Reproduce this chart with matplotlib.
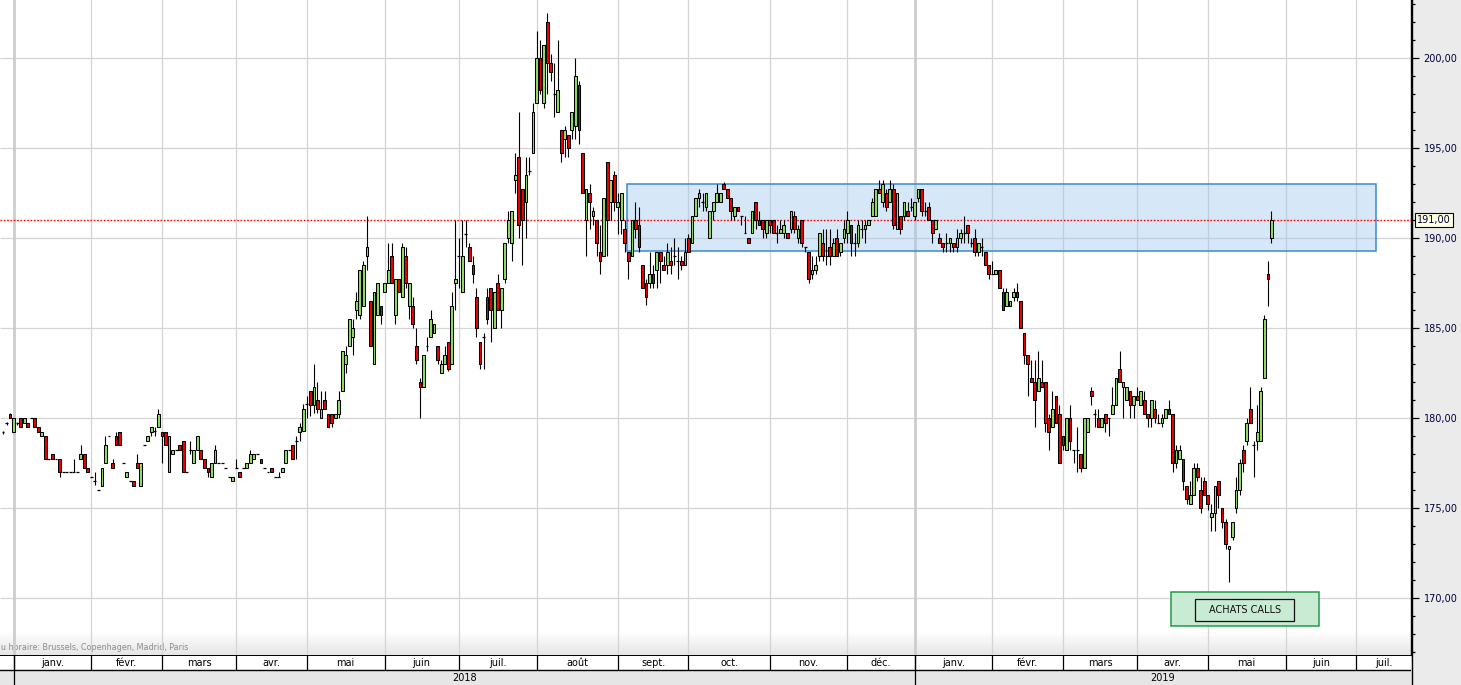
import numpy as np
import pandas as pd
import matplotlib
matplotlib.use("Agg")
import matplotlib.pyplot as plt
import matplotlib.transforms as mtransforms
from matplotlib.patches import Rectangle
from matplotlib.lines import Line2D
from matplotlib.ticker import MultipleLocator, FuncFormatter

# Euronext closing days (no candle, no slot on the chart)
holidays = ["2017-12-25", "2017-12-26", "2018-01-01", "2018-03-30", "2018-04-02",
            "2018-05-01", "2018-12-25", "2018-12-26", "2019-01-01", "2019-04-19",
            "2019-04-22", "2019-05-01"]

# daily candles (open, high, low, close), one list per month
dec17 = [(179.2, 179.3, 179.1, 179.2), (179.7, 179.8, 179.6, 179.7), (180.2, 180.3, 180.0, 180.0)]
jan18 = [(179.2, 180.0, 179.2, 180.0), (179.7, 179.8, 179.6, 179.7), (180.0, 180.0, 179.5, 179.5),
         (179.7, 180.0, 179.7, 180.0), (179.7, 179.7, 179.5, 179.5), (180.0, 180.0, 180.0, 180.0),
         (180.0, 180.0, 179.5, 179.5), (179.5, 179.5, 179.2, 179.2), (179.0, 179.2, 179.0, 179.2),
         (179.0, 179.0, 177.7, 177.7), (177.7, 177.7, 177.7, 177.7), (178.0, 178.0, 177.7, 177.7),
         (177.7, 177.7, 177.7, 177.7), (177.7, 177.7, 176.7, 177.0), (177.0, 177.0, 177.0, 177.0),
         (177.0, 177.0, 177.0, 177.0), (177.0, 177.0, 177.0, 177.0), (177.0, 177.7, 177.0, 177.0),
         (177.0, 177.0, 177.0, 177.0), (177.7, 178.5, 177.7, 178.0), (178.0, 178.0, 177.2, 177.2),
         (177.2, 177.2, 177.0, 177.0)]
feb18 = [(176.7, 176.7, 176.7, 176.7), (176.5, 177.0, 176.3, 176.5), (176.0, 176.0, 176.0, 176.0),
         (176.2, 177.2, 176.2, 177.2), (177.5, 179.0, 177.5, 178.5), (179.0, 179.0, 179.0, 179.0),
         (177.5, 177.7, 177.2, 177.2), (179.0, 179.2, 178.5, 178.5), (179.2, 179.2, 178.5, 178.5),
         (177.5, 177.5, 177.5, 177.5), (176.7, 177.0, 176.7, 177.0), (176.5, 176.5, 176.5, 176.5),
         (176.5, 176.5, 176.2, 176.2), (177.5, 178.0, 177.2, 177.2), (176.2, 177.5, 176.2, 177.5),
         (178.5, 178.5, 178.5, 178.5), (178.7, 179.0, 178.7, 179.0), (179.2, 179.5, 179.0, 179.5),
         (179.3, 179.5, 179.0, 179.3), (179.5, 180.5, 179.5, 180.2)]
mar18 = [(179.2, 179.2, 177.5, 179.0), (179.2, 179.2, 178.5, 178.5), (177.0, 179.0, 177.0, 179.0),
         (178.0, 178.2, 178.0, 178.2), (178.2, 178.2, 178.2, 178.2), (178.5, 178.5, 178.2, 178.2),
         (178.7, 178.7, 177.0, 177.0), (177.0, 177.0, 177.0, 177.0), (178.2, 178.7, 178.0, 178.2),
         (177.5, 178.2, 177.5, 178.2), (178.2, 179.0, 178.2, 179.0), (178.2, 178.2, 177.7, 177.7),
         (177.7, 177.7, 177.2, 177.2), (177.2, 177.2, 176.7, 177.0), (176.7, 177.5, 176.7, 177.5),
         (177.5, 178.5, 177.5, 178.2), (177.5, 177.5, 177.5, 177.5), (177.5, 177.5, 177.5, 177.5),
         (177.2, 177.2, 177.2, 177.2), (176.7, 176.7, 176.7, 176.7), (176.5, 176.7, 176.5, 176.7)]
apr18 = [(177.2, 177.7, 177.2, 177.2), (177.0, 177.0, 176.7, 176.7), (177.2, 177.2, 177.2, 177.2),
         (177.2, 177.5, 177.2, 177.5), (177.5, 178.2, 177.5, 178.0), (177.7, 178.0, 177.7, 178.0),
         (178.0, 178.0, 178.0, 178.0), (177.7, 177.7, 177.5, 177.5), (177.2, 177.2, 177.2, 177.2),
         (177.0, 177.0, 177.0, 177.0), (177.2, 177.2, 177.0, 177.0), (176.7, 176.7, 176.7, 176.7),
         (176.7, 177.0, 176.7, 176.7), (177.0, 177.2, 177.0, 177.2), (177.5, 178.2, 177.5, 178.2),
         (178.2, 178.2, 178.2, 178.2), (178.5, 178.5, 177.7, 177.7), (178.7, 179.0, 177.7, 178.7),
         (179.2, 179.7, 178.7, 179.5)]
may18 = [(179.3, 180.8, 179.3, 180.5), (180.8, 181.2, 180.0, 180.8), (181.5, 181.5, 180.1, 180.7),
         (180.7, 183.0, 180.3, 181.7), (181.0, 182.0, 180.3, 180.5), (180.0, 181.5, 180.0, 180.5),
         (181.0, 181.5, 180.5, 180.5), (180.2, 180.2, 179.5, 179.5), (180.2, 180.2, 179.5, 179.7),
         (180.0, 180.2, 180.0, 180.2), (180.2, 181.5, 180.0, 181.0), (181.5, 183.7, 181.5, 183.7),
         (183.0, 184.0, 182.5, 183.5), (184.0, 185.5, 184.0, 185.5), (184.5, 185.5, 183.5, 185.0),
         (186.0, 187.0, 185.5, 186.5), (185.7, 188.2, 185.5, 188.2), (186.2, 188.7, 186.2, 188.5),
         (189.0, 191.2, 188.2, 189.5), (186.5, 186.5, 184.0, 184.0), (183.0, 187.0, 183.0, 187.0),
         (185.7, 187.5, 185.7, 187.5)]
jun18 = [(186.2, 186.2, 185.2, 185.7), (187.0, 187.5, 187.0, 187.5), (187.5, 189.7, 187.5, 188.2),
         (189.0, 189.7, 187.5, 187.5), (185.7, 187.7, 185.2, 187.7), (187.7, 187.7, 187.0, 187.0),
         (186.7, 189.7, 186.7, 189.5), (189.0, 189.5, 187.2, 187.5), (186.2, 187.5, 185.5, 187.5),
         (186.2, 186.7, 185.0, 185.2), (184.0, 185.0, 183.0, 183.2), (182.0, 182.2, 180.0, 181.7),
         (181.7, 183.5, 181.7, 183.5), (184.0, 184.5, 183.7, 184.0), (184.5, 186.0, 184.5, 185.5),
         (184.7, 185.2, 184.7, 185.2), (184.0, 184.0, 183.0, 183.2), (182.5, 183.2, 182.5, 183.0),
         (183.0, 184.0, 183.0, 183.5), (184.2, 184.2, 182.6, 182.7), (183.0, 187.0, 183.0, 186.2)]
jul18 = [(187.5, 191.0, 186.0, 187.7), (189.0, 190.0, 187.2, 189.0), (187.0, 191.0, 187.0, 189.0),
         (190.2, 191.0, 189.5, 190.2), (189.5, 189.7, 188.7, 188.7), (188.5, 189.0, 187.5, 188.0),
         (186.7, 187.2, 184.5, 185.0), (184.2, 184.2, 182.7, 183.0), (184.5, 184.7, 182.7, 184.5),
         (186.7, 187.2, 185.2, 185.5), (187.2, 187.2, 184.2, 186.0), (185.0, 187.0, 185.0, 187.0),
         (187.5, 188.0, 186.0, 186.0), (186.0, 187.2, 185.0, 187.2), (187.7, 189.7, 187.5, 189.7),
         (190.0, 191.5, 189.7, 191.0), (189.7, 191.5, 188.7, 191.5), (193.2, 194.7, 192.5, 193.5),
         (194.5, 197.0, 190.0, 190.7), (192.7, 192.7, 188.5, 191.0), (192.0, 194.5, 190.0, 193.5),
         (193.7, 194.5, 193.5, 193.7)]
aug18 = [(194.7, 197.5, 194.7, 197.0), (197.5, 201.5, 197.5, 200.0), (200.0, 201.0, 198.0, 198.2),
         (197.5, 200.7, 197.2, 200.7), (202.0, 202.5, 198.0, 199.7), (199.7, 200.2, 198.7, 199.2),
         (198.0, 199.7, 196.7, 198.0), (197.0, 201.0, 197.0, 198.2), (196.0, 196.0, 194.2, 194.7),
         (195.5, 196.2, 194.5, 196.0), (195.7, 195.7, 194.5, 195.0), (196.0, 197.0, 195.5, 197.0),
         (196.2, 200.0, 195.5, 199.0), (198.5, 198.7, 195.2, 196.0), (194.7, 194.7, 192.5, 192.5),
         (191.0, 192.7, 189.0, 192.7), (192.5, 193.0, 190.5, 192.0), (191.2, 191.7, 190.7, 191.5),
         (191.0, 191.0, 189.0, 189.7), (189.2, 190.7, 188.0, 188.7), (189.0, 192.2, 189.0, 192.2),
         (194.2, 194.2, 189.0, 191.0), (192.0, 193.2, 191.0, 193.2)]
sep18 = [(193.5, 193.7, 191.5, 192.0), (191.7, 192.5, 190.2, 192.0), (191.0, 192.5, 190.2, 192.5),
         (190.5, 191.0, 189.2, 189.7), (189.2, 189.2, 187.7, 188.7), (189.0, 191.0, 189.0, 191.0),
         (191.0, 192.0, 190.0, 190.5), (190.7, 191.7, 189.2, 189.5), (188.5, 188.5, 187.2, 187.2),
         (187.5, 187.7, 186.3, 186.7), (187.5, 189.2, 187.2, 188.0), (188.0, 188.5, 187.2, 187.5),
         (188.2, 189.2, 187.2, 189.2), (189.2, 189.2, 187.5, 188.7), (188.5, 189.0, 188.2, 188.2),
         (188.5, 189.7, 188.0, 189.2), (188.7, 189.5, 188.0, 188.5), (189.0, 190.0, 188.5, 189.0),
         (188.7, 189.5, 187.7, 188.7), (188.7, 189.0, 188.2, 188.5)]
oct18 = [(188.5, 190.0, 188.5, 189.2), (190.0, 190.2, 189.2, 189.2), (189.7, 191.2, 189.7, 191.2),
         (191.2, 192.2, 191.2, 192.2), (192.2, 192.7, 191.7, 192.5), (192.0, 192.5, 191.5, 192.0),
         (191.7, 192.5, 191.5, 192.5), (190.0, 191.5, 190.0, 191.5), (191.5, 192.0, 191.0, 192.0),
         (192.0, 193.0, 192.0, 192.5), (192.0, 192.5, 192.0, 192.5), (193.0, 193.1, 192.7, 192.7),
         (192.7, 192.7, 192.2, 192.2), (192.2, 192.2, 191.0, 191.5), (191.2, 191.7, 191.0, 191.7),
         (191.7, 191.7, 191.5, 191.5), (191.2, 191.2, 190.7, 191.2), (190.3, 191.2, 190.3, 190.3),
         (190.0, 190.0, 189.7, 189.7), (190.3, 191.5, 190.3, 191.5), (192.0, 192.0, 190.5, 191.0),
         (191.0, 191.5, 190.7, 190.7), (191.0, 191.0, 190.0, 190.5)]
nov18 = [(190.3, 191.0, 190.0, 191.0), (191.0, 191.0, 190.3, 190.7), (191.0, 191.0, 190.3, 190.3),
         (190.3, 190.7, 189.7, 190.3), (190.3, 191.0, 190.3, 190.5), (190.3, 191.0, 190.0, 190.7),
         (190.3, 190.3, 190.0, 190.0), (190.5, 191.5, 190.3, 191.5), (191.2, 191.5, 190.3, 190.5),
         (190.0, 190.7, 189.7, 190.5), (191.0, 191.0, 189.5, 189.7), (189.5, 189.5, 189.2, 189.5),
         (189.2, 189.2, 187.5, 187.7), (188.0, 189.0, 187.7, 188.2), (188.2, 189.0, 188.0, 188.5),
         (189.0, 190.3, 188.7, 190.3), (189.7, 190.5, 188.7, 189.0), (189.0, 190.5, 188.5, 189.0),
         (189.5, 190.5, 188.5, 189.0), (189.0, 190.0, 189.0, 189.7), (190.0, 190.5, 189.0, 189.0),
         (189.2, 189.7, 189.0, 189.7)]
dec18 = [(190.0, 191.0, 189.7, 190.5), (190.3, 191.5, 189.7, 191.0), (190.7, 190.7, 189.0, 189.7),
         (189.7, 190.3, 189.0, 189.7), (189.7, 191.0, 189.5, 190.7), (190.5, 191.0, 190.0, 190.5),
         (190.5, 191.0, 189.7, 190.7), (190.7, 191.0, 190.7, 191.0), (191.2, 192.2, 191.2, 192.0),
         (191.2, 192.7, 191.2, 192.7), (192.7, 193.2, 192.5, 192.5), (192.0, 193.2, 191.7, 193.0),
         (192.5, 192.7, 191.5, 191.7), (192.0, 193.2, 192.0, 192.7), (192.7, 193.0, 190.5, 190.7),
         (190.5, 192.5, 190.5, 192.5), (191.2, 191.2, 190.2, 190.5), (191.2, 192.0, 191.0, 192.0),
         (191.5, 192.0, 191.2, 191.2)]
jan19 = [(191.7, 192.2, 191.5, 191.7), (191.2, 192.0, 191.0, 192.0), (192.2, 192.7, 192.0, 192.7),
         (192.7, 192.7, 191.2, 191.5), (191.5, 192.0, 191.2, 191.5), (191.7, 192.0, 191.0, 191.0),
         (191.0, 191.0, 189.7, 190.3), (190.5, 191.0, 190.5, 191.0), (190.0, 190.3, 189.7, 189.7),
         (189.7, 189.7, 189.2, 189.5), (189.7, 190.3, 189.2, 189.7), (189.7, 190.0, 189.2, 190.0),
         (189.7, 189.7, 189.2, 189.5), (189.5, 190.5, 189.2, 190.0), (190.0, 190.5, 189.7, 190.3),
         (190.3, 191.2, 189.7, 190.3), (190.7, 190.7, 189.7, 190.3), (189.7, 190.0, 189.5, 189.7),
         (190.0, 190.5, 189.0, 189.2), (189.2, 189.7, 189.0, 189.7), (189.5, 190.0, 189.0, 189.5),
         (189.2, 189.2, 188.5, 188.5)]
feb19 = [(188.5, 188.5, 187.7, 188.0), (188.0, 188.7, 188.0, 188.0), (188.0, 188.2, 188.0, 188.2),
         (188.2, 188.2, 187.2, 187.2), (187.0, 187.2, 186.0, 186.0), (186.2, 187.2, 186.2, 187.0),
         (186.2, 186.5, 186.2, 186.5), (186.7, 187.2, 186.5, 187.0), (187.0, 187.5, 186.5, 186.7),
         (186.5, 186.5, 185.0, 185.0), (184.7, 184.7, 183.0, 183.5), (183.5, 183.5, 181.2, 183.0),
         (182.2, 183.2, 182.0, 182.0), (182.0, 183.2, 179.5, 181.0), (181.5, 183.7, 181.5, 182.2),
         (182.0, 183.2, 181.7, 181.7), (182.0, 182.0, 179.2, 179.7), (180.0, 180.2, 178.2, 179.2),
         (179.5, 181.5, 179.5, 180.5), (181.2, 181.2, 179.7, 179.7)]
mar19 = [(180.2, 180.7, 177.5, 177.5), (179.0, 179.0, 178.2, 178.5), (178.2, 180.0, 178.2, 180.0),
         (180.0, 180.7, 178.2, 178.7), (178.2, 178.2, 177.5, 178.2), (178.2, 179.5, 177.0, 178.2),
         (178.0, 178.0, 177.0, 177.2), (177.2, 180.0, 177.2, 180.0), (179.2, 180.0, 179.2, 180.0),
         (181.5, 181.7, 180.7, 181.2), (180.2, 180.5, 179.5, 180.2), (180.0, 180.5, 179.5, 179.5),
         (179.5, 180.0, 179.5, 180.0), (180.2, 180.2, 179.2, 179.7), (180.0, 180.0, 179.0, 180.0),
         (180.2, 181.7, 180.2, 180.7), (180.7, 182.2, 180.7, 182.2), (182.7, 183.7, 182.0, 182.0),
         (181.7, 182.0, 180.0, 182.0), (181.0, 181.7, 181.0, 181.7), (181.5, 181.5, 180.0, 180.7)]
apr19 = [(180.7, 181.2, 180.0, 181.2), (181.2, 181.7, 181.0, 181.0), (180.7, 181.5, 180.7, 181.5),
         (181.0, 181.5, 180.2, 180.2), (180.2, 180.2, 179.5, 180.0), (180.0, 181.0, 179.5, 181.0),
         (180.5, 181.0, 179.7, 180.0), (179.7, 180.2, 179.7, 179.7), (179.7, 180.2, 179.5, 180.0),
         (180.0, 180.5, 180.0, 180.5), (180.5, 181.0, 180.2, 180.2), (180.2, 180.2, 177.0, 177.5),
         (177.5, 178.5, 177.2, 178.2), (177.7, 178.5, 177.7, 178.2), (177.7, 177.7, 176.0, 176.5),
         (176.2, 176.2, 175.2, 175.5), (175.2, 176.5, 175.2, 175.7), (175.7, 177.5, 175.7, 177.2),
         (177.2, 177.5, 176.5, 176.7), (176.0, 176.7, 174.7, 175.0)]
may19 = [(176.5, 176.7, 175.7, 175.7), (175.7, 175.7, 174.9, 175.2), (174.5, 175.2, 173.7, 174.7),
         (174.7, 176.2, 173.7, 176.2), (176.5, 176.5, 175.0, 175.7), (175.0, 175.0, 173.9, 174.2),
         (174.2, 174.4, 172.7, 173.0), (172.7, 172.9, 170.9, 172.9), (173.4, 174.2, 173.2, 174.2),
         (175.0, 176.7, 174.7, 176.0), (176.0, 177.7, 175.7, 177.5), (178.2, 178.5, 177.0, 177.5),
         (178.7, 180.0, 178.5, 179.7), (180.5, 181.7, 179.7, 179.7), (178.5, 178.7, 176.7, 178.5),
         (178.7, 180.7, 178.2, 179.2), (178.7, 181.7, 178.7, 181.5), (182.2, 185.7, 182.2, 185.5),
         (188.0, 188.7, 186.2, 187.7), (190.0, 191.5, 189.7, 191.0)]

months_fr = ["janv.", "févr.", "mars", "avr.", "mai", "juin",
             "juil.", "août", "sept.", "oct.", "nov.", "déc."]
last_price = 191.00
zone_low, zone_high = 189.28, 193.0
zone_dates = ("2018-09-06", "2019-07-08")
calls_text = "ACHATS CALLS"
calls_dates = ("2019-04-15", "2019-06-14")
calls_inner_dates = ("2019-04-26", "2019-06-05")
calls_low, calls_high = 168.45, 170.33
calls_inner_low, calls_inner_high = 168.72, 169.94
tz_note = "u horaire: Brussels, Copenhagen, Madrid, Paris"

candles = (dec17 + jan18 + feb18 + mar18 + apr18 + may18 + jun18 + jul18 + aug18
           + sep18 + oct18 + nov18 + dec18 + jan19 + feb19 + mar19 + apr19 + may19)
o, h, l, c = np.array(candles).T

# trading calendar: one slot per trading day, extended into the future
cal = pd.bdate_range("2017-12-27", "2019-07-31")
cal = cal[~cal.isin(pd.to_datetime(holidays))]
x = np.arange(len(candles))


def pos(d):
    return cal.searchsorted(pd.Timestamp(d))


month_starts = [i for i in range(len(cal)) if i == 0 or cal[i].month != cal[i - 1].month][1:]
year_starts = [i for i in month_starts if cal[i].month == 1]

W, H = 1461, 685
fig = plt.figure(figsize=(W / 100, H / 100), dpi=100, facecolor="#ebebeb")
ax = fig.add_axes([0, 30 / H, 1411 / W, 655 / H])
bx = fig.add_axes([0, 0, 1411 / W, 30 / H])

xmin, xmax = -0.85, 398.5
ymin, ymax = 166.83, 203.22

# bottom shading of the chart area + gray time zone note
grad = np.linspace(1.0, 0.9, 40).reshape(-1, 1)
ax.imshow(grad, extent=[0, 1, 0, 24 / 655], transform=ax.transAxes, aspect="auto",
          cmap="gray", vmin=0, vmax=1, zorder=0.2)
ax.text(1 / 1411, 8 / 655, tz_note, transform=ax.transAxes, ha="left", va="center",
        fontsize=5.8, color="#8c8c8c", zorder=0.4)

# grid
ax.hlines(np.arange(170, 205, 5), xmin, xmax, color="#d4d4d4", lw=0.9, zorder=1)
for m in month_starts:
    big = m in year_starts
    ax.axvline(m, color="#cdcdcd" if big else "#d4d4d4", lw=2.0 if big else 0.9, zorder=1)

# resistance zone and last price line
z0, z1 = pos(zone_dates[0]) - 0.5, pos(zone_dates[1]) + 0.5
ax.add_patch(Rectangle((z0, zone_low), z1 - z0, zone_high - zone_low,
                       fc=(0.62, 0.78, 0.93, 0.42), ec="#3a8ad0", lw=1.1, zorder=1.5))
ax.axhline(last_price, color="red", ls=(0, (1.2, 1.2)), lw=1.0, zorder=2)

# candles
flat = o == c
up = c > o
ax.vlines(x, l, h, color="black", lw=0.8, zorder=3)
ax.bar(x[~flat], np.abs(c - o)[~flat], bottom=np.minimum(o, c)[~flat], width=0.78,
       color=np.where(up, "#90e060", "#ee0000")[~flat], edgecolor="black",
       linewidth=0.75, zorder=4)
ax.hlines(o[flat], x[flat] - 0.42, x[flat] + 0.42, color="black", lw=0.9, zorder=4)

# "ACHATS CALLS" box
b0, b1 = pos(calls_dates[0]) - 0.5, pos(calls_dates[1]) + 0.5
ax.add_patch(Rectangle((b0, calls_low), b1 - b0, calls_high - calls_low,
                       fc="#c9ebd3", ec="#1f9e44", lw=1.1, zorder=5))
i0, i1 = pos(calls_inner_dates[0]) - 0.5, pos(calls_inner_dates[1]) + 0.5
ax.add_patch(Rectangle((i0, calls_inner_low), i1 - i0, calls_inner_high - calls_inner_low,
                       fc="none", ec="#111111", lw=0.9, zorder=6))
ax.text((i0 + i1) / 2, (calls_inner_low + calls_inner_high) / 2, calls_text,
        ha="center", va="center", fontsize=7, color="#111111", zorder=7)

ax.set_xlim(xmin, xmax)
ax.set_ylim(ymin, ymax)
ax.set_facecolor("white")
for side in ("top", "left", "bottom"):
    ax.spines[side].set_visible(False)
ax.spines["right"].set_linewidth(1.0)
ax.set_xticks([])
ax.yaxis.tick_right()
ax.yaxis.set_major_locator(MultipleLocator(5))
ax.yaxis.set_minor_locator(MultipleLocator(1))
ax.yaxis.set_major_formatter(FuncFormatter(lambda v, p: f"{v:.2f}".replace(".", ",")))
ax.tick_params(axis="y", which="major", direction="out", length=6, width=0.9,
               labelsize=7, pad=3, labelcolor="#00003c")
ax.tick_params(axis="y", which="minor", direction="out", length=3, width=0.9)

# last price tag on the axis
tr = mtransforms.blended_transform_factory(ax.transAxes, ax.transData)
ax.text(1 + 6 / 1411, last_price, f"{last_price:.2f}".replace(".", ","), transform=tr,
        ha="left", va="center", fontsize=7, color="#00003c", clip_on=False, zorder=10,
        bbox=dict(boxstyle="square,pad=0.25", fc="#ffffe1", ec="black", lw=0.8))

# time axis band: months on top row, years below
bx.set_xlim(xmin, xmax)
bx.set_ylim(0, 2)
bx.axis("off")
bx.axhspan(1, 2, color="white", zorder=0)
bx.axhspan(0, 1, color="#e6e6e6", zorder=0)
bx.axhline(2, color="black", lw=1.4)
bx.axhline(1, color="black", lw=1.0)
edges = month_starts + [xmax]
for k, m in enumerate(month_starts):
    bx.vlines(m, 1, 2, color="black", lw=0.9)
    bx.text((m + edges[k + 1]) / 2, 1.5, months_fr[cal[m].month - 1], ha="center",
            va="center", fontsize=7, color="black")
yedges = year_starts + [xmax]
for k, m in enumerate(year_starts):
    bx.vlines(m, 0, 2, color="black", lw=0.9)
    bx.text((m + yedges[k + 1]) / 2, 0.48, str(cal[m].year), ha="center", va="center",
            fontsize=7, color="black")

fig.add_artist(Line2D([1411.5 / W] * 2, [0, 1], color="black", lw=1.0))
fig.savefig("out.png", dpi=100, facecolor=fig.get_facecolor())
